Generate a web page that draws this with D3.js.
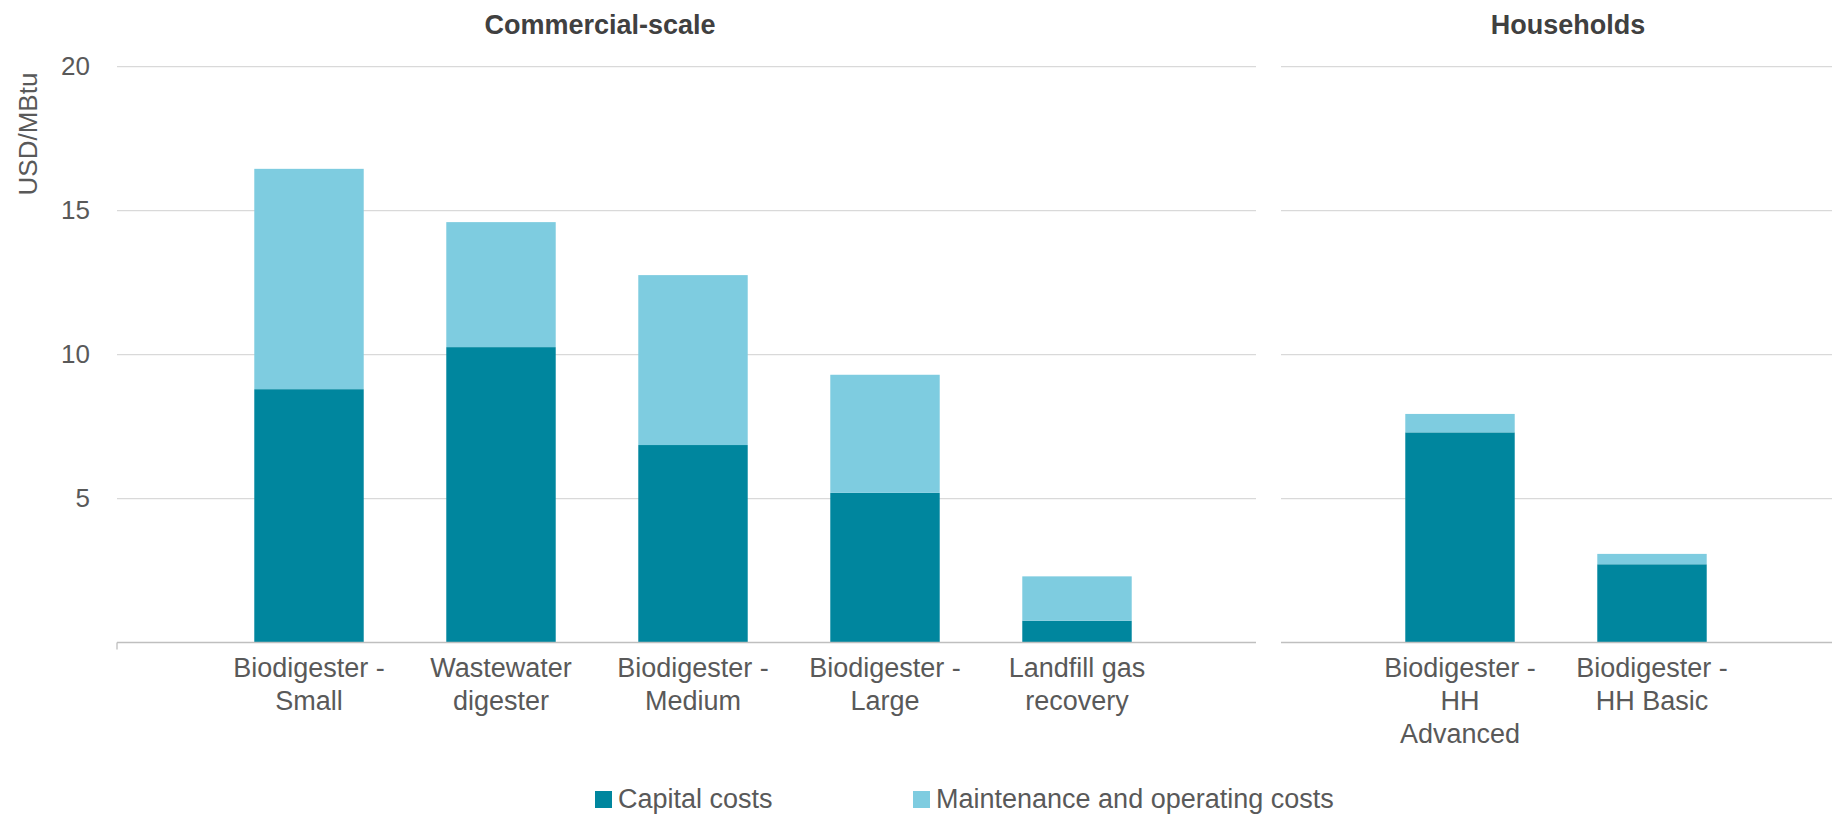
<!DOCTYPE html>
<html>
<head>
<meta charset="utf-8">
<script src="https://cdn.jsdelivr.net/npm/d3@7"></script>
<style>
  html, body { margin: 0; padding: 0; background: #ffffff; }
  svg { display: block; }
  text { font-family: "Liberation Sans", Arial, sans-serif; fill: #595959; }
</style>
</head>
<body>
<svg id="chart" width="1832" height="815"></svg>
<script>
// ---- data ----
const commercialCategories = [
  ["Biodigester -", "Small"],
  ["Wastewater", "digester"],
  ["Biodigester -", "Medium"],
  ["Biodigester -", "Large"],
  ["Landfill gas", "recovery"]
];
const commercialCapital = [8.8, 10.26, 6.86, 5.2, 0.76];
const commercialMaintenance = [7.65, 4.34, 5.9, 4.1, 1.54];

const householdCategories = [
  ["Biodigester -", "HH", "Advanced"],
  ["Biodigester -", "HH Basic"]
];
const householdCapital = [7.3, 2.72];
const householdMaintenance = [0.64, 0.36];

const panelTitles = ["Commercial-scale", "Households"];
const seriesNames = ["Capital costs", "Maintenance and operating costs"];
const yTicks = [5, 10, 15, 20];
const yLabel = "USD/MBtu";

// ---- styles ----
const colCapital = "#00869E";
const colMaint = "#7ECCE0";
const gridColor = "#d9d9d9";
const axisColor = "#bfbfbf";
const fontSize = 27;

const svg = d3.select("#chart");

const y = d3.scaleLinear().domain([0, 20]).range([642.6, 66.6]);

// panels
const panels = [
  { cats: commercialCategories, cap: commercialCapital, maint: commercialMaintenance,
    gx0: 117, gx1: 1256, bandRange: [213, 1173], title: panelTitles[0], titleX: 600 },
  { cats: householdCategories, cap: householdCapital, maint: householdMaintenance,
    gx0: 1281, gx1: 1832, bandRange: [1364, 1748], title: panelTitles[1], titleX: 1568 }
];

panels.forEach((p, pi) => {
  const g = svg.append("g");
  // gridlines
  g.selectAll("line.grid").data(yTicks).join("line")
    .attr("class", "grid")
    .attr("x1", p.gx0).attr("x2", p.gx1)
    .attr("y1", d => y(d)).attr("y2", d => y(d))
    .attr("stroke", gridColor).attr("stroke-width", 1.3);

  const keys = p.cats.map((c, i) => "c" + pi + "_" + i);
  const x = d3.scaleBand().domain(keys).range(p.bandRange).paddingInner(0.43).paddingOuter(0.215);

  const rows = keys.map((k, i) => ({ key: k, cap: p.cap[i], maint: p.maint[i] }));
  const stack = d3.stack().keys(["cap", "maint"])(rows);
  const colors = [colCapital, colMaint];

  stack.forEach((layer, li) => {
    g.append("g").selectAll("rect").data(layer).join("rect")
      .attr("x", d => x(d.data.key))
      .attr("width", x.bandwidth())
      .attr("y", d => y(d[1]))
      .attr("height", d => y(d[0]) - y(d[1]))
      .attr("fill", colors[li]);
  });

  // baseline
  g.append("line")
    .attr("x1", p.gx0).attr("x2", p.gx1)
    .attr("y1", y(0)).attr("y2", y(0))
    .attr("stroke", axisColor).attr("stroke-width", 1.5);
  if (pi === 0) {
    g.append("line")
      .attr("x1", p.gx0).attr("x2", p.gx0)
      .attr("y1", y(0)).attr("y2", y(0) + 7)
      .attr("stroke", axisColor).attr("stroke-width", 1.3);
  }

  // category labels
  p.cats.forEach((lines, i) => {
    const t = g.append("text")
      .attr("text-anchor", "middle")
      .attr("font-size", fontSize)
      .attr("x", x(keys[i]) + x.bandwidth() / 2)
      .attr("y", 677);
    lines.forEach((ln, li) => {
      t.append("tspan")
        .attr("x", x(keys[i]) + x.bandwidth() / 2)
        .attr("dy", li === 0 ? 0 : 33)
        .text(ln);
    });
  });

  // panel title
  g.append("text")
    .attr("x", p.titleX).attr("y", 34)
    .attr("text-anchor", "middle")
    .attr("font-size", fontSize)
    .attr("font-weight", "bold")
    .style("fill", "#404040")
    .text(p.title);
});

// y axis tick labels
const yAxis = d3.axisLeft(y).tickValues(yTicks).tickSize(0).tickPadding(0);
const ya = svg.append("g").attr("transform", "translate(90,0)").call(yAxis);
ya.select(".domain").remove();
ya.selectAll("text")
  .attr("font-size", 26)
  .style("font-family", "'Liberation Sans', Arial, sans-serif")
  .style("fill", "#595959");

// y axis title
svg.append("text")
  .attr("transform", "translate(37,134) rotate(-90)")
  .attr("text-anchor", "middle")
  .attr("font-size", 26)
  .text(yLabel);

// legend
const legendItems = [
  { name: seriesNames[0], color: colCapital, x: 595 },
  { name: seriesNames[1], color: colMaint, x: 913 }
];
const lg = svg.append("g");
legendItems.forEach(it => {
  lg.append("rect").attr("x", it.x).attr("y", 791).attr("width", 17).attr("height", 17).attr("fill", it.color);
  lg.append("text").attr("x", it.x + 23).attr("y", 808).attr("font-size", fontSize).text(it.name);
});
</script>
</body>
</html>
